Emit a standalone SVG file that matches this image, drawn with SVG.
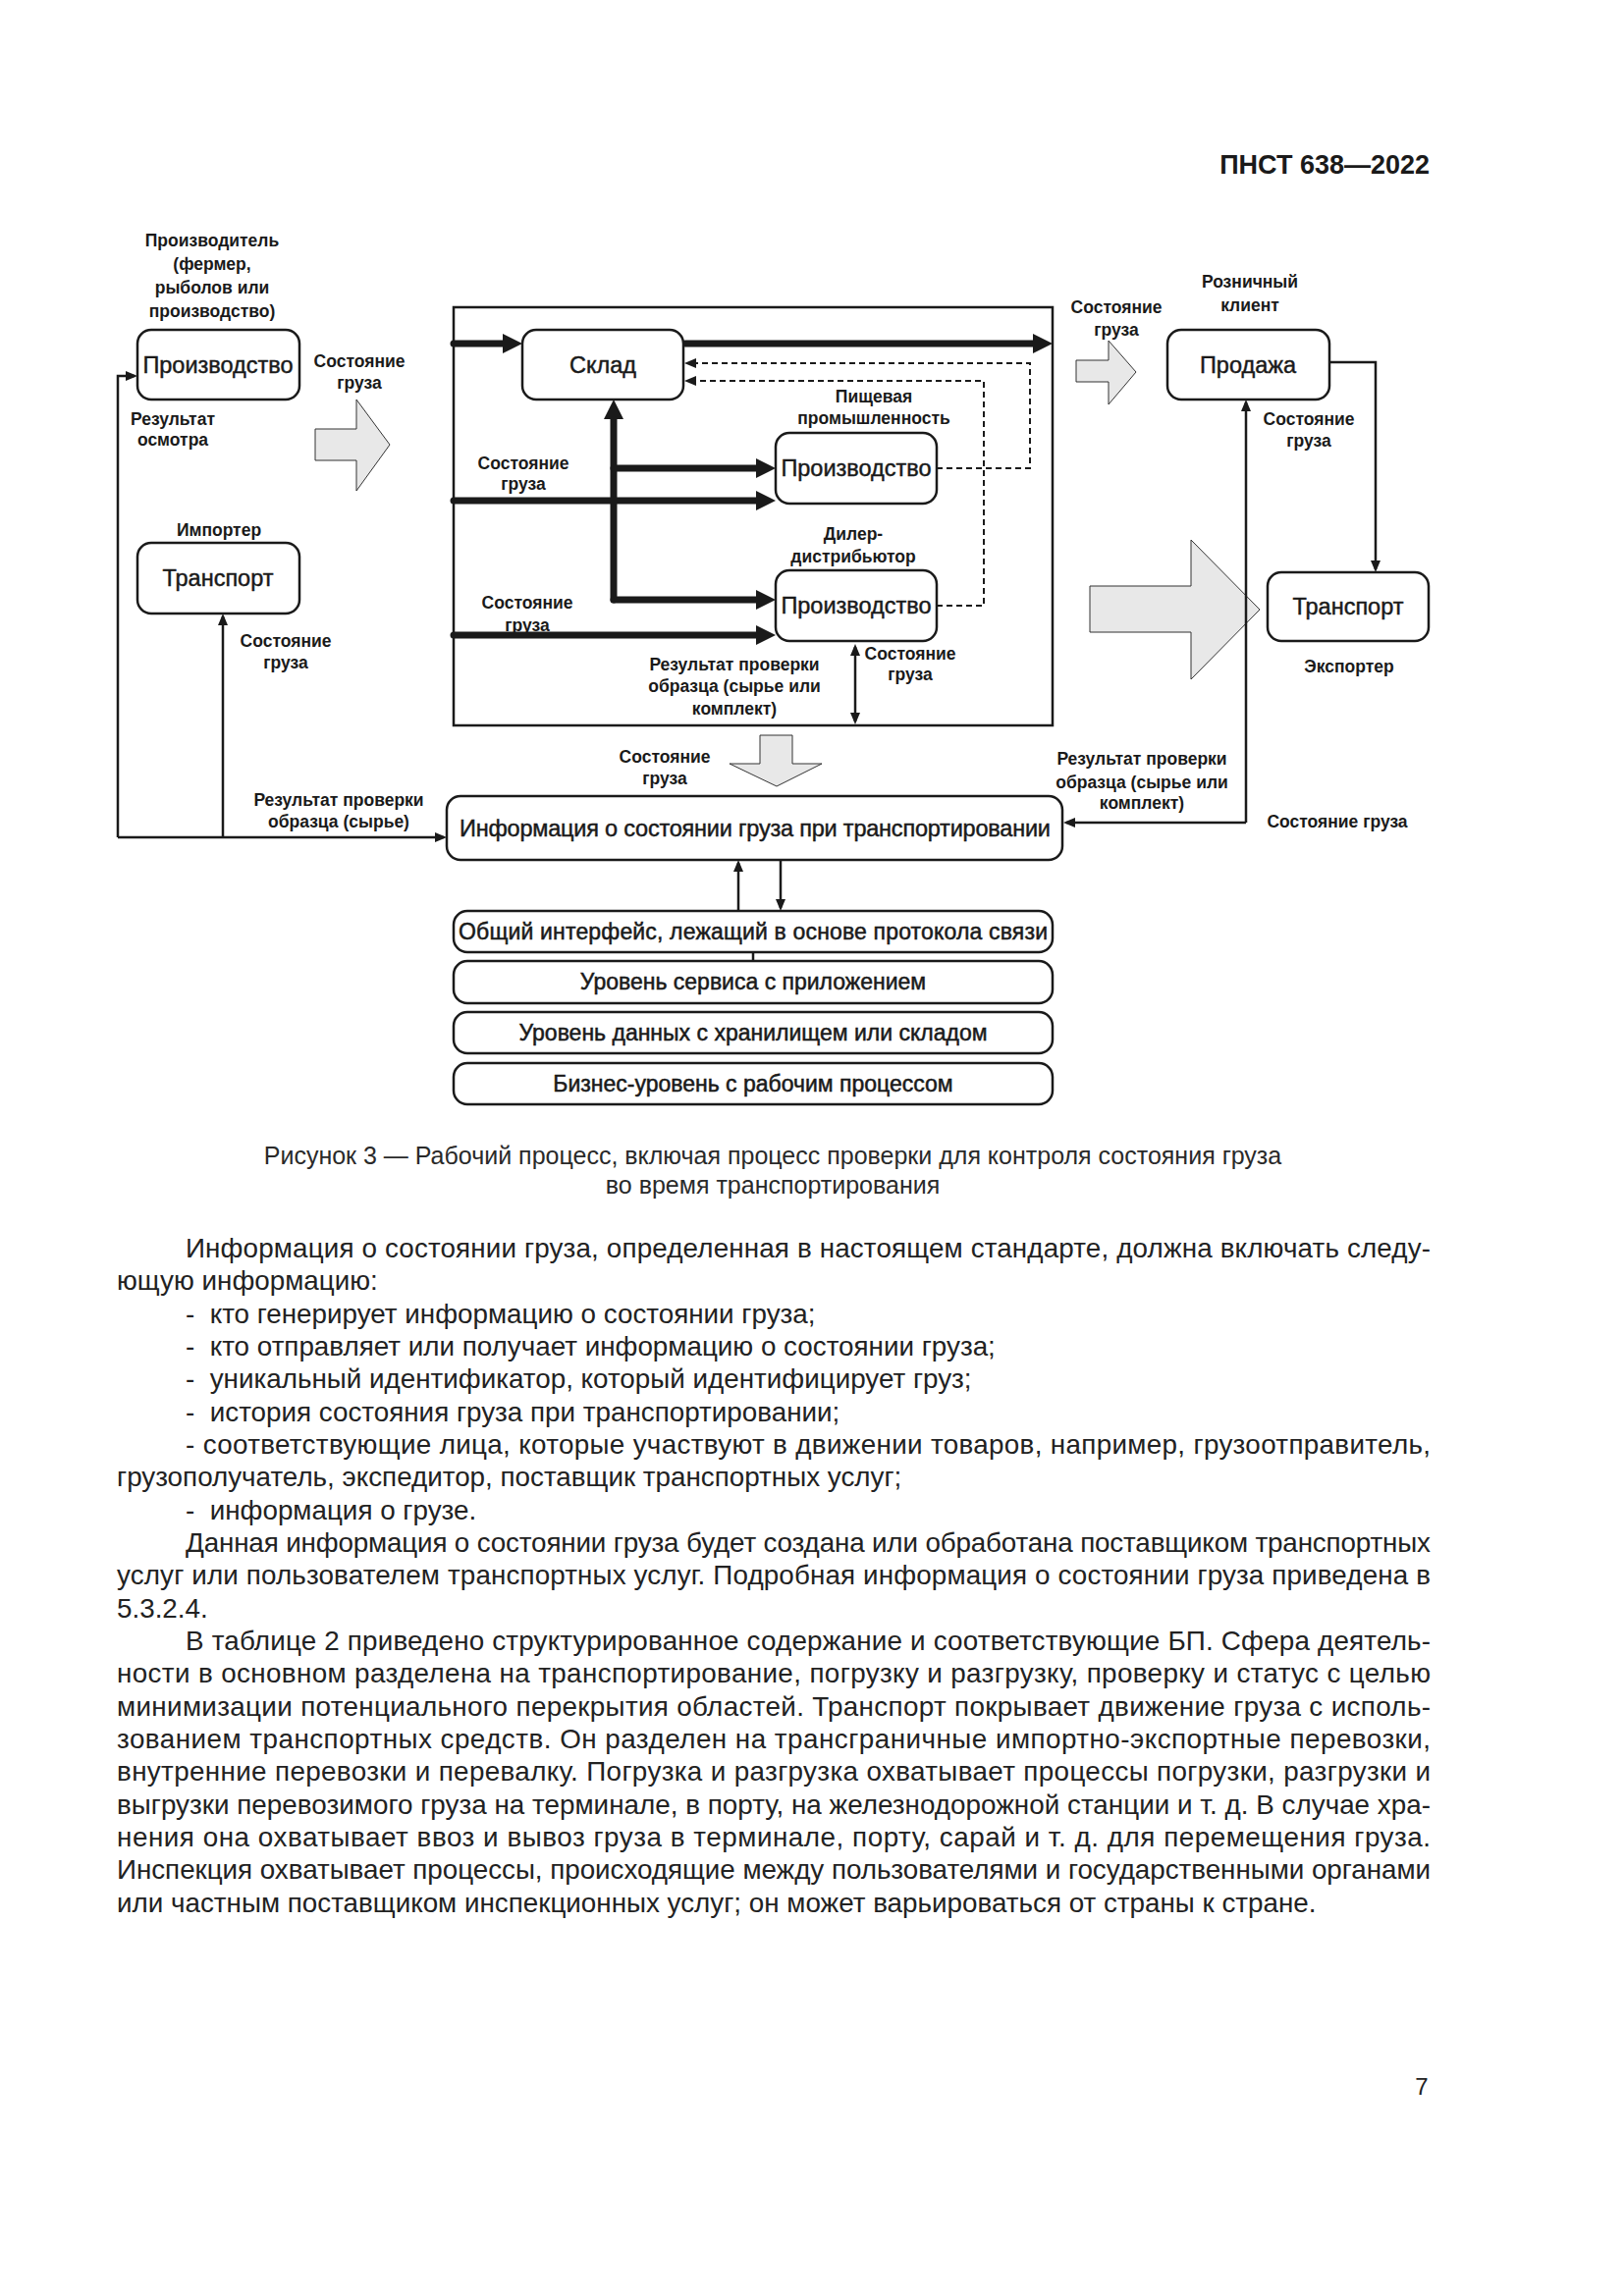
<svg xmlns="http://www.w3.org/2000/svg" width="1654" height="2339" viewBox="0 0 1654 2339">
<style>
text{font-family:"Liberation Sans",Arial,sans-serif;fill:#1a1a1a}
.box{fill:#fff;stroke:#1a1a1a;stroke-width:2.5}
.lbl{font-size:23.5px;text-anchor:middle;stroke:#1a1a1a;stroke-width:0.45}
.lay{font-size:23px;text-anchor:middle;stroke:#1a1a1a;stroke-width:0.5}
.sm{font-size:17.5px;font-weight:bold;text-anchor:middle}
.thin{fill:none;stroke:#1a1a1a;stroke-width:2.5}
.heavy{fill:none;stroke:#1a1a1a;stroke-width:7;stroke-linecap:round}
.dash{fill:none;stroke:#1a1a1a;stroke-width:2;stroke-dasharray:6 4}
.garrow{fill:#e8e8e8;stroke:#333;stroke-width:1}
.body{font-size:27.8px;fill:#222}
.cap{font-size:25px;fill:#2a2a2a;text-anchor:middle}
</style>
<defs>
<marker id="ah" viewBox="0 0 12 10" refX="9" refY="5" markerWidth="12" markerHeight="10" markerUnits="userSpaceOnUse" orient="auto-start-reverse"><path d="M0,0 L12,5 L0,10 z" fill="#1a1a1a"/></marker>
<marker id="ahH" viewBox="0 0 20 20" refX="8" refY="10" markerWidth="20" markerHeight="20" markerUnits="userSpaceOnUse" orient="auto"><path d="M0,0 L20,10 L0,20 z" fill="#1a1a1a"/></marker>
</defs>
<rect width="1654" height="2339" fill="#fff"/>

<text x="1456" y="177" style="font-size:27px;font-weight:bold;text-anchor:end">ПНСТ 638—2022</text>

<g id="frame"><rect x="462" y="313" width="610" height="426" fill="none" stroke="#1a1a1a" stroke-width="2.5"/></g>

<g id="gray-arrows">
<path class="garrow" d="M321,437 H363 V407 L397,453 L363,500 V469 H321 z"/>
<path class="garrow" d="M1096,367 H1129 V347 L1157,379 L1129,412 V389 H1096 z"/>
<path class="garrow" d="M1110,597 H1213 V550 L1283,621 L1213,692 V644 H1110 z"/>
<path class="garrow" d="M774,749 H807 V778 H837 L791,801 L743,778 H774 z"/>
</g>

<g id="connectors">
<path class="heavy" d="M462,350 H520" marker-end="url(#ahH)"/>
<path class="heavy" d="M698,350 H1060" marker-end="url(#ahH)"/>
<path class="heavy" d="M462,510 H778" marker-end="url(#ahH)"/>
<path class="heavy" d="M462,647 H778" marker-end="url(#ahH)"/>
<path class="heavy" d="M625,611 V419" marker-end="url(#ahH)"/>
<path class="heavy" d="M625,477 H778" marker-end="url(#ahH)"/>
<path class="heavy" d="M625,611 H778" marker-end="url(#ahH)"/>
<path class="dash" d="M954,477 H1049 V370 H700" marker-end="url(#ah)"/>
<path class="dash" d="M954,617 H1002 V388 H700" marker-end="url(#ah)"/>
<path class="thin" d="M871,659 V735" marker-start="url(#ah)" marker-end="url(#ah)"/>
<path class="thin" d="M120,853 H452" marker-end="url(#ah)"/>
<path class="thin" d="M120,853 V383 H137" marker-end="url(#ah)"/>
<path class="thin" d="M227,853 V628" marker-end="url(#ah)"/>
<path class="thin" d="M1354,369 H1401 V580" marker-end="url(#ah)"/>
<path class="thin" d="M1269,838 V410" marker-end="url(#ah)"/>
<path class="thin" d="M1269,838 H1086" marker-end="url(#ah)"/>
<path class="thin" d="M752,928 V879" marker-end="url(#ah)"/>
<path class="thin" d="M795,877 V925" marker-end="url(#ah)"/>
<path class="thin" d="M767,970 V979"/>
</g>

<g id="producer">
<text class="sm" x="216" y="251">Производитель</text>
<text class="sm" x="216" y="275">(фермер,</text>
<text class="sm" x="216" y="299">рыболов или</text>
<text class="sm" x="216" y="323">производство)</text>
<rect class="box" x="140" y="336" width="165" height="71" rx="14"/>
<text class="lbl" x="222" y="380">Производство</text>
</g>
<g id="importer">
<text class="sm" x="223" y="546">Импортер</text>
<rect class="box" x="140" y="553" width="165" height="72" rx="14"/>
<text class="lbl" x="222" y="597">Транспорт</text>
</g>
<g id="sklad">
<rect class="box" x="532" y="336" width="164" height="71" rx="14"/>
<text class="lbl" x="614" y="380">Склад</text>
</g>
<g id="food">
<text class="sm" x="890" y="410">Пищевая</text>
<text class="sm" x="890" y="432">промышленность</text>
<rect class="box" x="790" y="441" width="164" height="72" rx="14"/>
<text class="lbl" x="872" y="485">Производство</text>
</g>
<g id="dealer">
<text class="sm" x="869" y="550">Дилер-</text>
<text class="sm" x="869" y="573">дистрибьютор</text>
<rect class="box" x="790" y="581" width="164" height="72" rx="14"/>
<text class="lbl" x="872" y="625">Производство</text>
</g>
<g id="retail">
<text class="sm" x="1273" y="293">Розничный</text>
<text class="sm" x="1273" y="317">клиент</text>
<rect class="box" x="1189" y="336" width="165" height="71" rx="14"/>
<text class="lbl" x="1271" y="380">Продажа</text>
</g>
<g id="exporter">
<rect class="box" x="1291" y="583" width="164" height="70" rx="14"/>
<text class="lbl" x="1373" y="626">Транспорт</text>
<text class="sm" x="1374" y="685">Экспортер</text>
</g>
<g id="info">
<rect class="box" x="455" y="811" width="627" height="65" rx="14"/>
<text class="lbl" x="769" y="852" textLength="602" lengthAdjust="spacing">Информация о состоянии груза при транспортировании</text>
</g>
<g id="layers">
<rect class="box" x="462" y="928" width="610" height="42" rx="14"/>
<text class="lay" x="767" y="957" textLength="600" lengthAdjust="spacing">Общий интерфейс, лежащий в основе протокола связи</text>
<rect class="box" x="462" y="979" width="610" height="43" rx="14"/>
<text class="lay" x="767" y="1008">Уровень сервиса с приложением</text>
<rect class="box" x="462" y="1031" width="610" height="42" rx="14"/>
<text class="lay" x="767" y="1060">Уровень данных с хранилищем или складом</text>
<rect class="box" x="462" y="1083" width="610" height="42" rx="14"/>
<text class="lay" x="767" y="1112">Бизнес-уровень с рабочим процессом</text>
</g>

<g id="labels">
<text class="sm" x="366" y="374">Состояние</text>
<text class="sm" x="366" y="396">груза</text>
<text class="sm" x="176" y="433">Результат</text>
<text class="sm" x="176" y="454">осмотра</text>
<text class="sm" x="533" y="478">Состояние</text>
<text class="sm" x="533" y="499">груза</text>
<text class="sm" x="537" y="620">Состояние</text>
<text class="sm" x="537" y="643">груза</text>
<text class="sm" x="748" y="683">Результат проверки</text>
<text class="sm" x="748" y="705">образца (сырье или</text>
<text class="sm" x="748" y="728">комплект)</text>
<text class="sm" x="927" y="672">Состояние</text>
<text class="sm" x="927" y="693">груза</text>
<text class="sm" x="677" y="777">Состояние</text>
<text class="sm" x="677" y="799">груза</text>
<text class="sm" x="345" y="821">Результат проверки</text>
<text class="sm" x="345" y="843">образца (сырье)</text>
<text class="sm" x="291" y="659">Состояние</text>
<text class="sm" x="291" y="681">груза</text>
<text class="sm" x="1137" y="319">Состояние</text>
<text class="sm" x="1137" y="342">груза</text>
<text class="sm" x="1333" y="433">Состояние</text>
<text class="sm" x="1333" y="455">груза</text>
<text class="sm" x="1163" y="779">Результат проверки</text>
<text class="sm" x="1163" y="803">образца (сырье или</text>
<text class="sm" x="1163" y="824">комплект)</text>
<text class="sm" x="1362" y="843">Состояние груза</text>
</g>

<g id="caption">
<text class="cap" x="787" y="1186">Рисунок 3 — Рабочий процесс, включая процесс проверки для контроля состояния груза</text>
<text class="cap" x="787" y="1216">во время транспортирования</text>
</g>

<g id="body">
<text class="body" x="189" y="1281" textLength="1268" lengthAdjust="spacing">Информация о состоянии груза, определенная в настоящем стандарте, должна включать следу-</text>
<text class="body" x="119" y="1314">ющую информацию:</text>
<text class="body" x="189" y="1348">-&#160; кто генерирует информацию о состоянии груза;</text>
<text class="body" x="189" y="1381">-&#160; кто отправляет или получает информацию о состоянии груза;</text>
<text class="body" x="189" y="1414">-&#160; уникальный идентификатор, который идентифицирует груз;</text>
<text class="body" x="189" y="1448">-&#160; история состояния груза при транспортировании;</text>
<text class="body" x="189" y="1481" textLength="1268" lengthAdjust="spacing">- соответствующие лица, которые участвуют в движении товаров, например, грузоотправитель,</text>
<text class="body" x="119" y="1514">грузополучатель, экспедитор, поставщик транспортных услуг;</text>
<text class="body" x="189" y="1548">-&#160; информация о грузе.</text>
<text class="body" x="189" y="1581" textLength="1268" lengthAdjust="spacing">Данная информация о состоянии груза будет создана или обработана поставщиком транспортных</text>
<text class="body" x="119" y="1614" textLength="1338" lengthAdjust="spacing">услуг или пользователем транспортных услуг. Подробная информация о состоянии груза приведена в</text>
<text class="body" x="119" y="1648">5.3.2.4.</text>
<text class="body" x="189" y="1681" textLength="1268" lengthAdjust="spacing">В таблице 2 приведено структурированное содержание и соответствующие БП. Сфера деятель-</text>
<text class="body" x="119" y="1714" textLength="1338" lengthAdjust="spacing">ности в основном разделена на транспортирование, погрузку и разгрузку, проверку и статус с целью</text>
<text class="body" x="119" y="1748" textLength="1338" lengthAdjust="spacing">минимизации потенциального перекрытия областей. Транспорт покрывает движение груза с исполь-</text>
<text class="body" x="119" y="1781" textLength="1338" lengthAdjust="spacing">зованием транспортных средств. Он разделен на трансграничные импортно-экспортные перевозки,</text>
<text class="body" x="119" y="1814" textLength="1338" lengthAdjust="spacing">внутренние перевозки и перевалку. Погрузка и разгрузка охватывает процессы погрузки, разгрузки и</text>
<text class="body" x="119" y="1848" textLength="1338" lengthAdjust="spacing">выгрузки перевозимого груза на терминале, в порту, на железнодорожной станции и т. д. В случае хра-</text>
<text class="body" x="119" y="1881" textLength="1338" lengthAdjust="spacing">нения она охватывает ввоз и вывоз груза в терминале, порту, сарай и т. д. для перемещения груза.</text>
<text class="body" x="119" y="1914" textLength="1338" lengthAdjust="spacing">Инспекция охватывает процессы, происходящие между пользователями и государственными органами</text>
<text class="body" x="119" y="1948">или частным поставщиком инспекционных услуг; он может варьироваться от страны к стране.</text>
</g>

<text x="1448" y="2134" style="font-size:24px;fill:#222;text-anchor:middle">7</text>
</svg>
